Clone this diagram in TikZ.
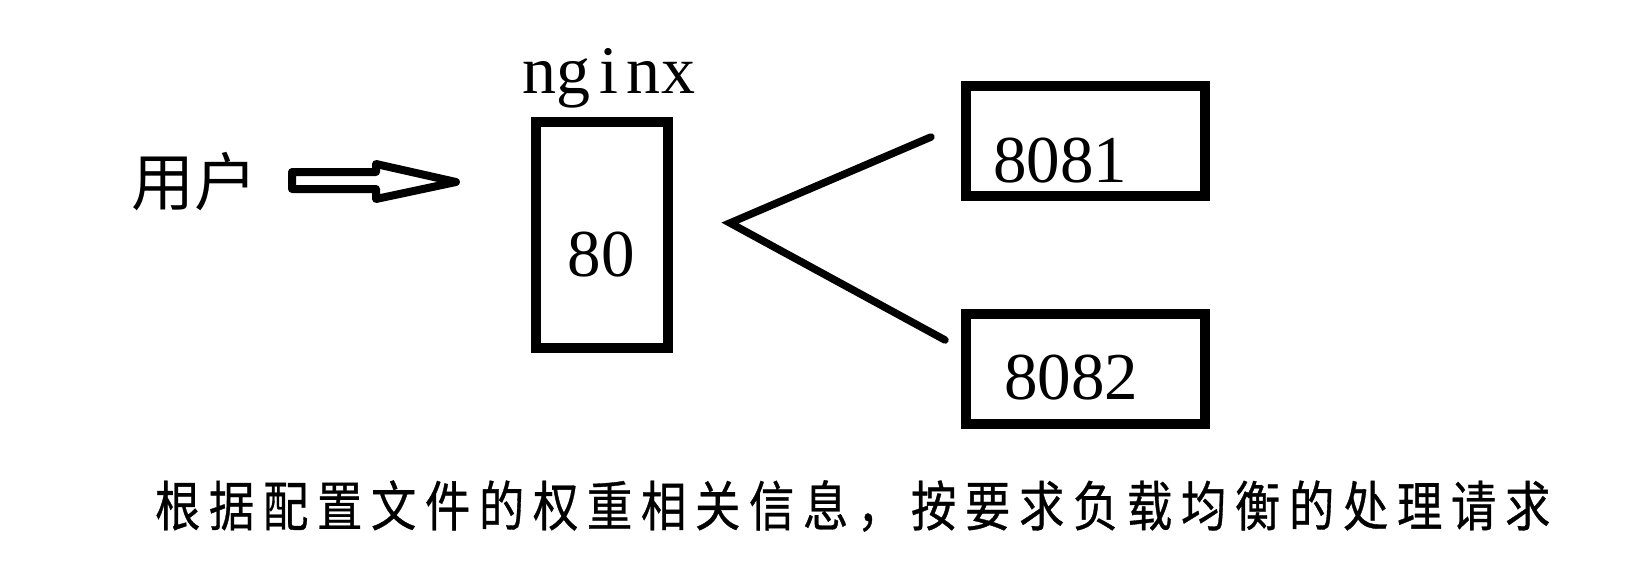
\documentclass[tikz,border=0pt]{standalone}
\usepackage{fontspec}
\setmainfont{Liberation Serif}
\newfontfamily\cjk{Noto Sans CJK SC}
\newfontfamily\cjkcond[FakeStretch=0.84,FakeBold=0.6]{Noto Sans CJK SC}
\newlength\charpitch
\def\spcchars#1{\ifx#1\relax\else\makebox[\charpitch]{#1}\expandafter\spcchars\fi}
\tikzset{
  box/.style={draw=black, line width=#1, rectangle, inner sep=0pt},
  num/.style={font=\fontsize{67}{67}\selectfont, inner sep=0pt, anchor=base},
  link/.style={draw=black, line width=7.5pt, line cap=round, line join=miter},
}
\begin{document}
\begin{tikzpicture}[x=1pt, y=-1pt]
\useasboundingbox (0,0) rectangle (1634,587);
% user
\node[font=\cjk\fontsize{63}{63}\selectfont, inner sep=0pt] (user) at (194,182) {用户};
% hollow arrow
\draw[line width=8pt, line join=round] (292,172) -- (376,172) -- (376,164) -- (456,182) -- (376,199) -- (376,189) -- (292,189) -- cycle;
% nginx box
\node[box=10pt, minimum width=132pt, minimum height=226pt] (nginx) at (602,235) {};
\node[font=\fontsize{68}{68}\selectfont, inner sep=0pt, anchor=base] (nginxlabel) at (609,93) {\setlength\charpitch{35pt}\spcchars nginx\relax};
\node[num] (p80) at (601,276) {80};
% backend boxes
\node[box=10pt, minimum width=239pt, minimum height=110pt] (s1) at (1085.5,141) {};
\node[num] (p8081) at (1060,182) {8081};
\node[box=10pt, minimum width=239pt, minimum height=110pt] (s2) at (1085.5,369) {};
\node[num] (p8082) at (1071,399) {8082};
% fork lines
\coordinate (fork) at (730,223);
\coordinate (e1) at (931,137);
\coordinate (e2) at (945,340);
\draw[link] (e1) -- (fork) -- (e2);
% caption
\node[font=\cjkcond\fontsize{54}{54}\selectfont, inner sep=0pt, anchor=west] (caption) at (150.5,506) {\setlength\charpitch{54pt}\spcchars 根据配置文件的权重相关信息，按要求负载均衡的处理请求\relax};
\end{tikzpicture}
\end{document}
